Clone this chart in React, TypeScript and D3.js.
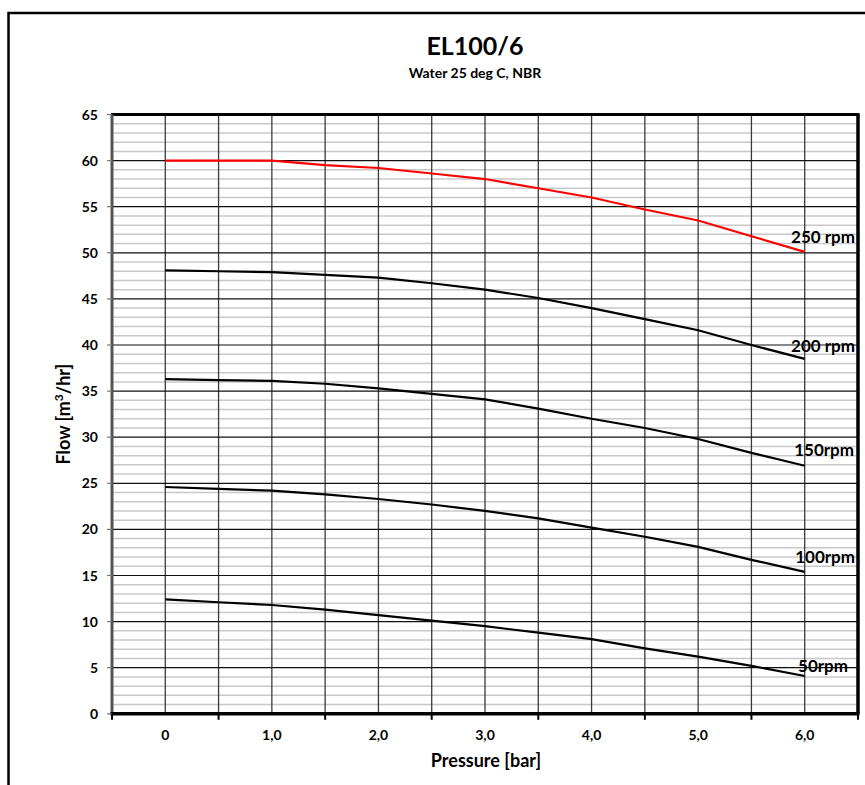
import React from "react";
import * as d3 from "d3";

const pressure = [0, 0.5, 1, 1.5, 2, 2.5, 3, 3.5, 4, 4.5, 5, 5.5, 6];
const flow250 = [60, 60, 60, 59.5, 59.2, 58.6, 58, 57, 56, 54.7, 53.5, 51.8, 50.1];
const flow200 = [48.1, 48, 47.9, 47.6, 47.3, 46.7, 46, 45.1, 44, 42.8, 41.6, 40, 38.5];
const flow150 = [36.3, 36.2, 36.1, 35.8, 35.3, 34.7, 34.1, 33.1, 32, 31, 29.8, 28.3, 26.9];
const flow100 = [24.6, 24.4, 24.2, 23.8, 23.3, 22.7, 22, 21.2, 20.2, 19.2, 18.1, 16.7, 15.4];
const flow50 = [12.4, 12.1, 11.8, 11.3, 10.7, 10.1, 9.5, 8.8, 8.1, 7.1, 6.2, 5.2, 4.1];
const seriesNames = ["250 rpm", "200 rpm", "150rpm", "100rpm", "50rpm"];
const xTickValues = [0, 1, 2, 3, 4, 5, 6];
const xTickLabels = ["0", "1,0", "2,0", "3,0", "4,0", "5,0", "6,0"];
const yTickValues = [0, 5, 10, 15, 20, 25, 30, 35, 40, 45, 50, 55, 60, 65];

const W = 865;
const H = 785;
const FONT = "Lato, 'Liberation Sans', sans-serif";

export default function App() {
  const left = 112, right = 858, top = 114.5, bottom = 713.8;
  const x = d3.scaleLinear().domain([-0.5, 6.5]).range([left, right]);
  const y = d3.scaleLinear().domain([0, 65]).range([bottom, top]);
  const series = [flow250, flow200, flow150, flow100, flow50];
  const colors = ["#ff0000", "#000", "#000", "#000", "#000"];
  const labelDy = [-8.5, -6.5, -9.5, -8.5, -3.5];
  const labelX = [855, 855, 854, 855, 848];
  const line = d3
    .line<number>()
    .x((_, i) => x(pressure[i]))
    .y((d) => y(d));

  const minorY = d3.range(0, 66, 1).filter((v) => v % 5 !== 0);
  const vGrid = d3.range(0, 6.01, 0.5);
  const xBoundaries = d3.range(-0.5, 6.51, 1);

  return (
    <svg
      width={W}
      height={H}
      style={{ position: "absolute", left: 0, top: 0, background: "#fff" }}
      fontFamily={FONT}
    >
      <rect x={0} y={0} width={W} height={H} fill="#fff" />
      {/* outer frame */}
      <rect x={8.5} y={13} width={900} height={850} fill="none" stroke="#000" strokeWidth={2.5} />

      {/* title */}
      <text x={475} y={55} textAnchor="middle" fontSize={25} fontWeight="bold" fill="#000">
        EL100/6
      </text>
      <text x={475} y={78} textAnchor="middle" fontSize={14} fontWeight="bold" fill="#000">
        Water 25 deg C, NBR
      </text>

      {/* minor horizontal gridlines */}
      {minorY.map((v) => (
        <line key={"mn" + v} x1={left} x2={right} y1={y(v)} y2={y(v)} stroke="#c8c8c8" strokeWidth={1.5} />
      ))}
      {/* vertical gridlines */}
      {vGrid.map((v) => (
        <line key={"vg" + v} x1={x(v)} x2={x(v)} y1={top} y2={bottom} stroke="#3a3a3a" strokeWidth={1.3} />
      ))}
      {/* major horizontal gridlines */}
      {yTickValues.map((v) => (
        <line key={"mj" + v} x1={left} x2={right} y1={y(v)} y2={y(v)} stroke="#111" strokeWidth={1.2} />
      ))}

      {/* series */}
      {series.map((s, i) => (
        <path key={"s" + i} d={line(s) || ""} fill="none" stroke={colors[i]} strokeWidth={2.2} />
      ))}
      {series.map((s, i) => (
        <text
          key={"lb" + i}
          x={labelX[i]}
          y={y(s[s.length - 1]) + labelDy[i]}
          textAnchor="end"
          fontSize={17}
          fontWeight="bold"
          fill="#000"
        >
          {seriesNames[i]}
        </text>
      ))}

      {/* plot frame */}
      <line x1={left - 1} x2={right + 1.5} y1={top} y2={top} stroke="#000" strokeWidth={3} />
      <line x1={right} x2={right} y1={top} y2={bottom} stroke="#000" strokeWidth={3.5} />
      <line x1={left} x2={left} y1={top} y2={bottom + 1} stroke="#555" strokeWidth={3} />
      <line x1={left - 1.5} x2={right + 1.5} y1={bottom} y2={bottom} stroke="#000" strokeWidth={3.5} />

      {/* y ticks */}
      {yTickValues.map((v) => (
        <g key={"yt" + v}>
          <line x1={left - 5} x2={left} y1={y(v)} y2={y(v)} stroke="#777" strokeWidth={1.2} />
          <text x={98} y={y(v)} dy="0.36em" textAnchor="end" fontSize={14} fontWeight="bold" fill="#000">
            {v}
          </text>
        </g>
      ))}
      {/* x ticks */}
      {xBoundaries.map((v) => (
        <line key={"xt" + v} x1={x(v)} x2={x(v)} y1={bottom} y2={bottom + 6} stroke="#000" strokeWidth={2} />
      ))}
      {xTickValues.map((v, i) => (
        <text key={"xl" + v} x={x(v)} y={740} textAnchor="middle" fontSize={14} fontWeight="bold" fill="#000">
          {xTickLabels[i]}
        </text>
      ))}

      {/* axis titles */}
      <text x={486} y={767} textAnchor="middle" fontSize={18} fontWeight="bold" fill="#000">
        Pressure [bar]
      </text>
      <text
        transform={`translate(70, ${(top + bottom) / 2}) rotate(-90)`}
        textAnchor="middle"
        fontSize={18}
        fontWeight="bold"
        fill="#000"
      >
        Flow [m<tspan baselineShift="super" fontSize={12}>3</tspan>/hr]
      </text>
    </svg>
  );
}
